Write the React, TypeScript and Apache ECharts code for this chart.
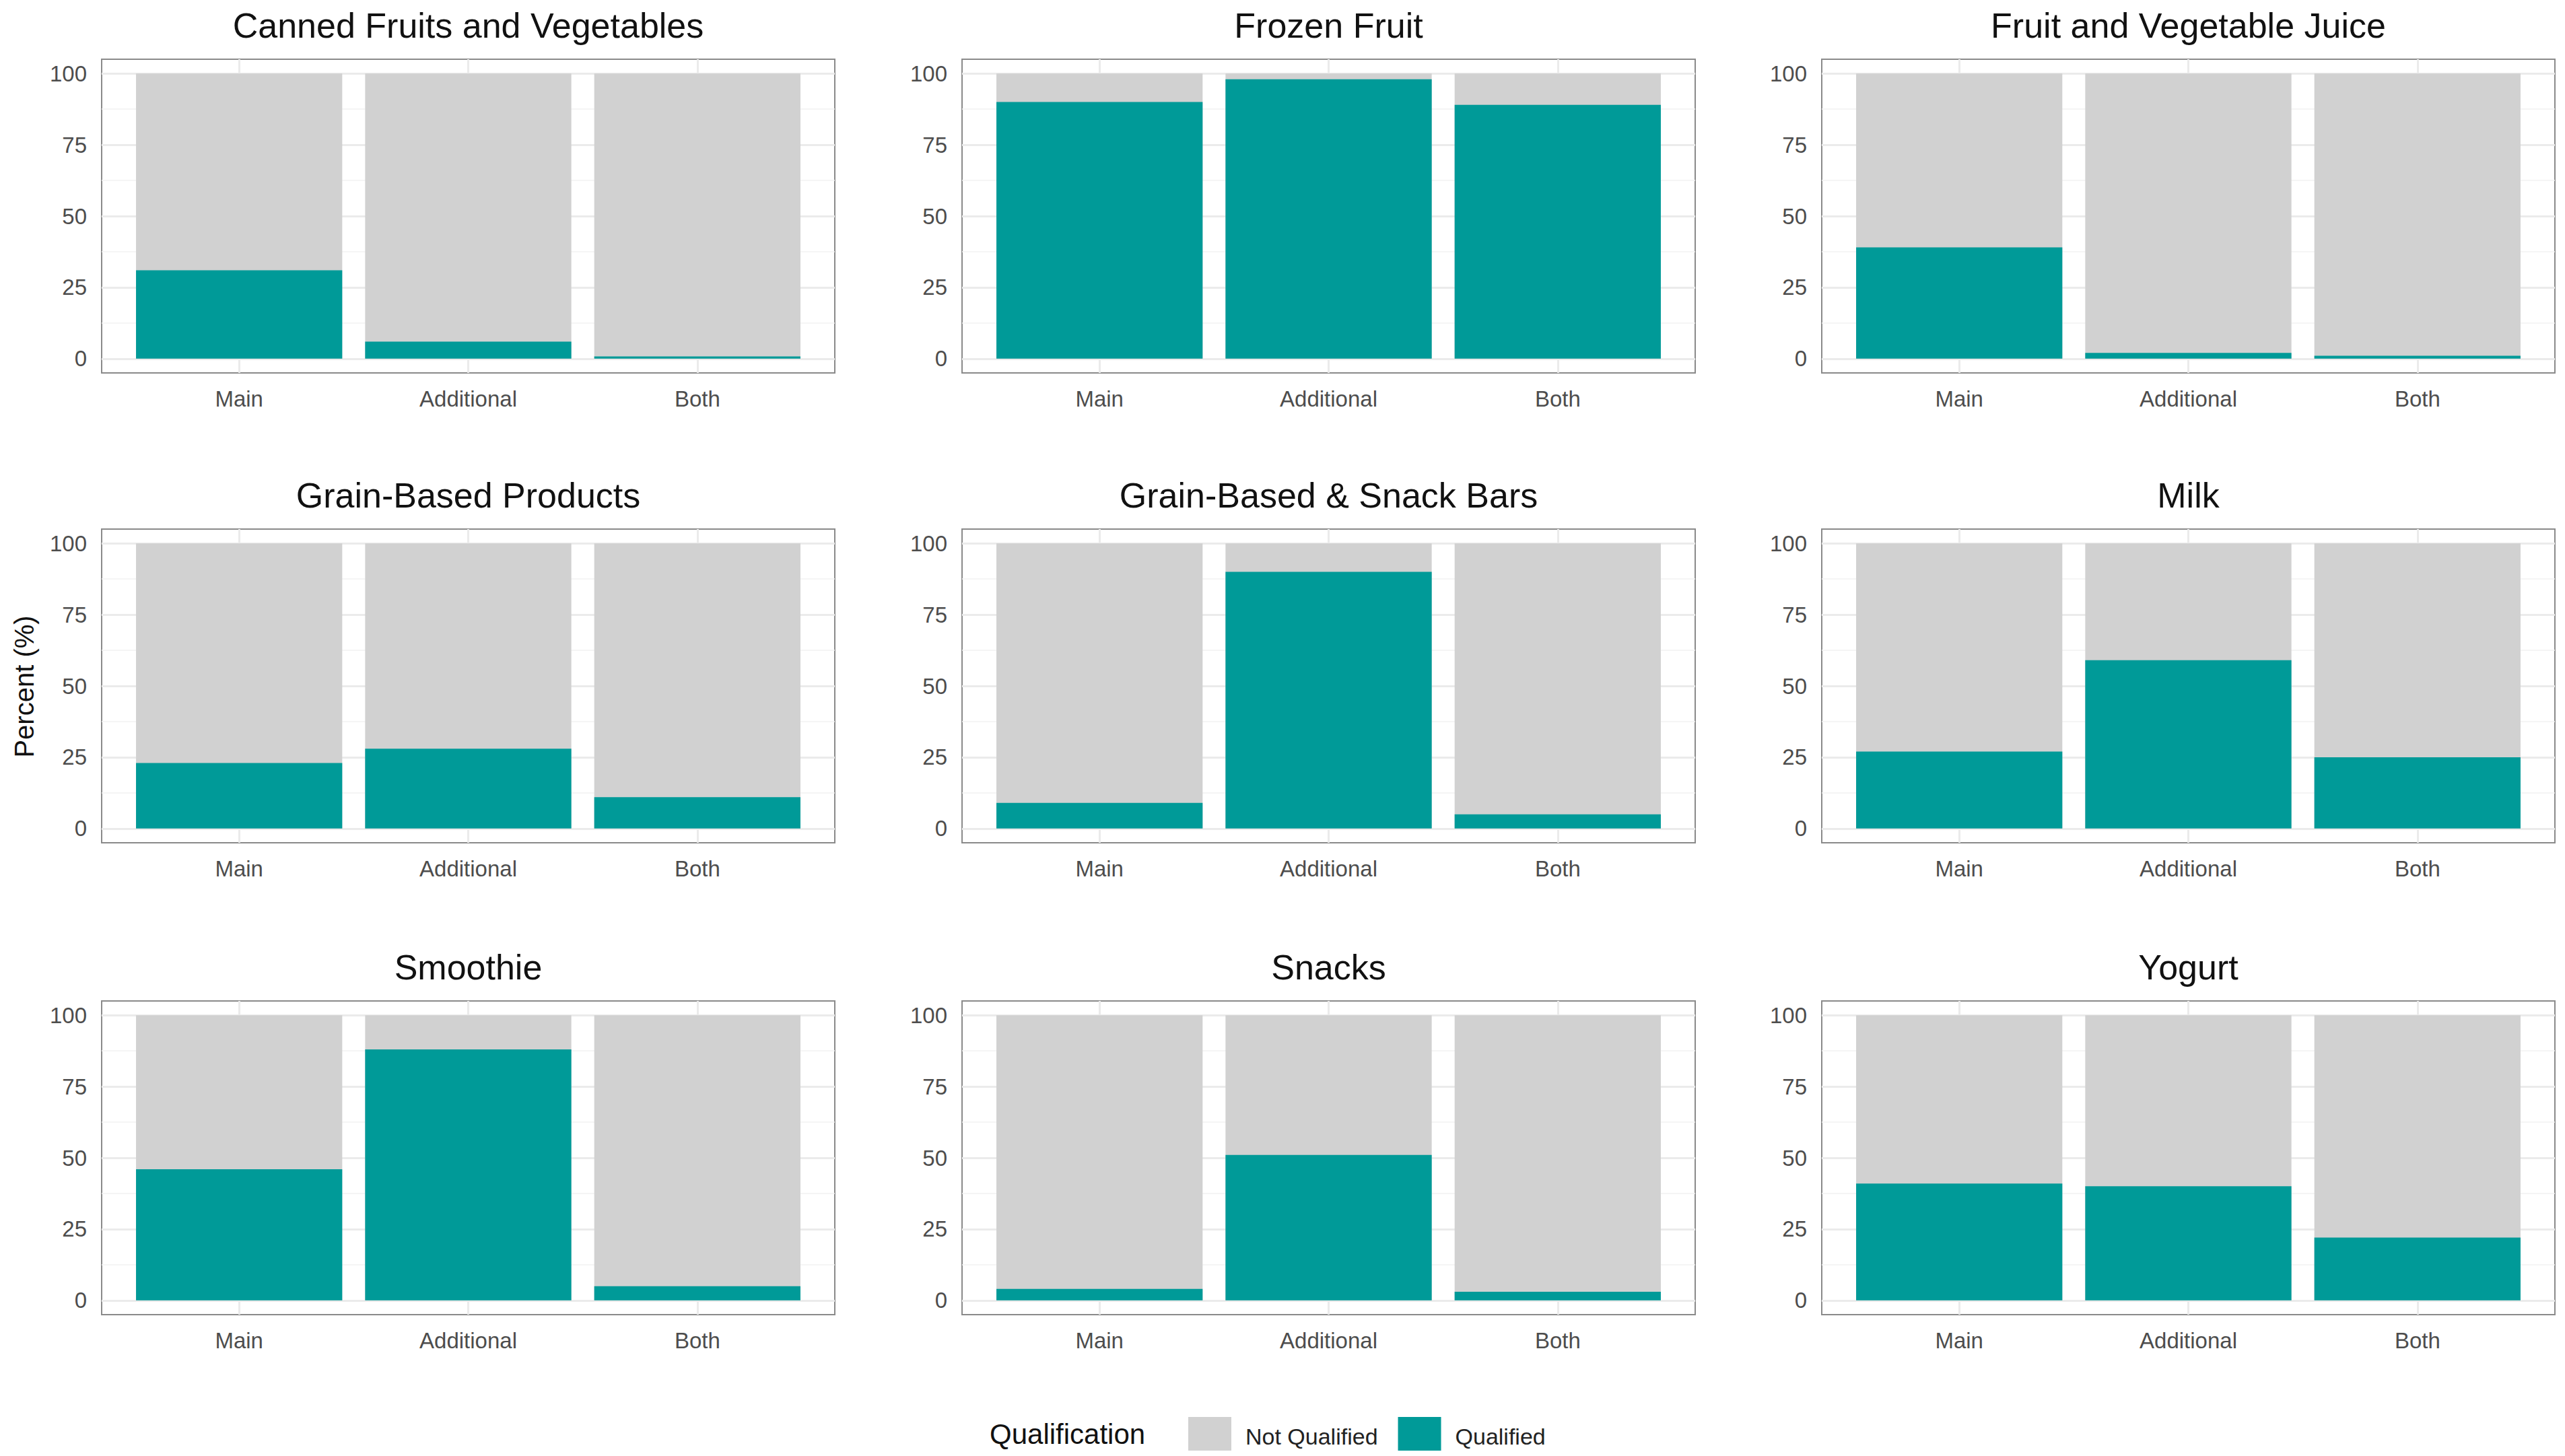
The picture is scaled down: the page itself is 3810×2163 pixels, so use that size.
import React, { useEffect, useRef } from 'react';
import * as echarts from 'echarts';

const panels = [
  'Canned Fruits and Vegetables',
  'Frozen Fruit',
  'Fruit and Vegetable Juice',
  'Grain-Based Products',
  'Grain-Based & Snack Bars',
  'Milk',
  'Smoothie',
  'Snacks',
  'Yogurt',
];
const categories = ['Main', 'Additional', 'Both'];
// percent qualified per panel, Main / Additional / Both
const qualified = [
  [31, 6, 0.8],
  [90, 98, 89],
  [39, 2, 1],
  [23, 28, 11],
  [9, 90, 5],
  [27, 59, 25],
  [46, 88, 5],
  [4, 51, 3],
  [41, 40, 22],
];
const yTicks = [0, 25, 50, 75, 100];
const yMinor = [12.5, 37.5, 62.5, 87.5];

const TEAL = '#009a98';
const GREY = '#d1d1d1';
const W = 3794;
const H = 2147;
const colLeft = [143, 1421, 2698];
const rowTop = [80, 778, 1479];
const boxW = 1089;
const boxH = 466;

const App: React.FC = () => {
  const ref = useRef<HTMLDivElement>(null);

  useEffect(() => {
    if (!ref.current) return;
    const chart = echarts.init(ref.current, undefined, { renderer: 'svg' });

    const grids: any[] = [];
    const xAxes: any[] = [];
    const yAxes: any[] = [];
    const series: any[] = [];
    const graphics: any[] = [];
    const barWidth = (boxW * 0.9) / 3.2;

    panels.forEach((name, i) => {
      const left = colLeft[i % 3];
      const top = rowTop[Math.floor(i / 3)];
      grids.push({
        left, top, width: boxW, height: boxH,
        show: true, borderColor: '#8a8a8a', borderWidth: 2, backgroundColor: '#fff',
      });
      xAxes.push({
        type: 'value', gridIndex: i, min: 0.4, max: 3.6,
        axisLine: { show: false }, axisTick: { show: false }, splitLine: { show: false },
        axisLabel: {
          customValues: [1, 2, 3], margin: 22, fontSize: 33, color: '#4d4d4d',
          fontFamily: 'Liberation Sans',
          formatter: (v: number) => categories[Math.round(v) - 1] ?? '',
        },
      });
      yAxes.push({
        type: 'value', gridIndex: i, min: -5, max: 105,
        axisLine: { show: false }, axisTick: { show: false }, splitLine: { show: false },
        axisLabel: {
          customValues: yTicks, margin: 22, fontSize: 33, color: '#4d4d4d',
          fontFamily: 'Liberation Sans',
        },
      });
      // total column (Not Qualified on top of Qualified), drawn behind
      series.push({
        name: 'Not Qualified', type: 'bar', xAxisIndex: i, yAxisIndex: i,
        barWidth, barGap: '-100%', z: 2, itemStyle: { color: GREY },
        data: qualified[i].map((v, j) => [j + 1, v + (100 - v)]),
        markLine: {
          silent: true, symbol: 'none', label: { show: false }, animation: false, z: 1,
          data: [
            ...yTicks.map((y) => ({ yAxis: y, lineStyle: { color: '#ebebeb', width: 3, type: 'solid' } })),
            ...yMinor.map((y) => ({ yAxis: y, lineStyle: { color: '#f2f2f2', width: 1.5, type: 'solid' } })),
            ...[1, 2, 3].map((x) => ({ xAxis: x, lineStyle: { color: '#ebebeb', width: 3, type: 'solid' } })),
          ],
        },
      });
      series.push({
        name: 'Qualified', type: 'bar', xAxisIndex: i, yAxisIndex: i,
        barWidth, barGap: '-100%', z: 3, itemStyle: { color: TEAL },
        data: qualified[i].map((v, j) => [j + 1, v]),
      });
      graphics.push({
        type: 'text', x: left + boxW / 2, y: top - 50,
        style: {
          text: name, fontSize: 52, fill: '#111', textAlign: 'center', textVerticalAlign: 'middle',
          fontFamily: 'Liberation Sans',
        },
      });
    });

    graphics.push({
      type: 'text', x: 28, y: 1012, rotation: Math.PI / 2,
      style: {
        text: 'Percent (%)', fontSize: 40, fill: '#111', textAlign: 'center', textVerticalAlign: 'middle',
        fontFamily: 'Liberation Sans',
      },
    });
    graphics.push({
      type: 'text', x: 1462, y: 2122,
      style: {
        text: 'Qualification', fontSize: 42, fill: '#111', textAlign: 'left', textVerticalAlign: 'middle',
        fontFamily: 'Liberation Sans',
      },
    });

    chart.setOption({
      animation: false,
      grid: grids,
      xAxis: xAxes,
      yAxis: yAxes,
      series,
      graphic: graphics,
      legend: {
        data: ['Not Qualified', 'Qualified'],
        left: 1752, top: 2092, icon: 'rect', itemWidth: 64, itemHeight: 58, itemGap: 30,
        textStyle: { fontSize: 34, color: '#222', fontFamily: 'Liberation Sans', padding: [0, 0, 0, 16] },
        selectedMode: false,
      },
    });
    return () => chart.dispose();
  }, []);

  return <div ref={ref} style={{ width: W, height: H }} />;
};

export default App;
